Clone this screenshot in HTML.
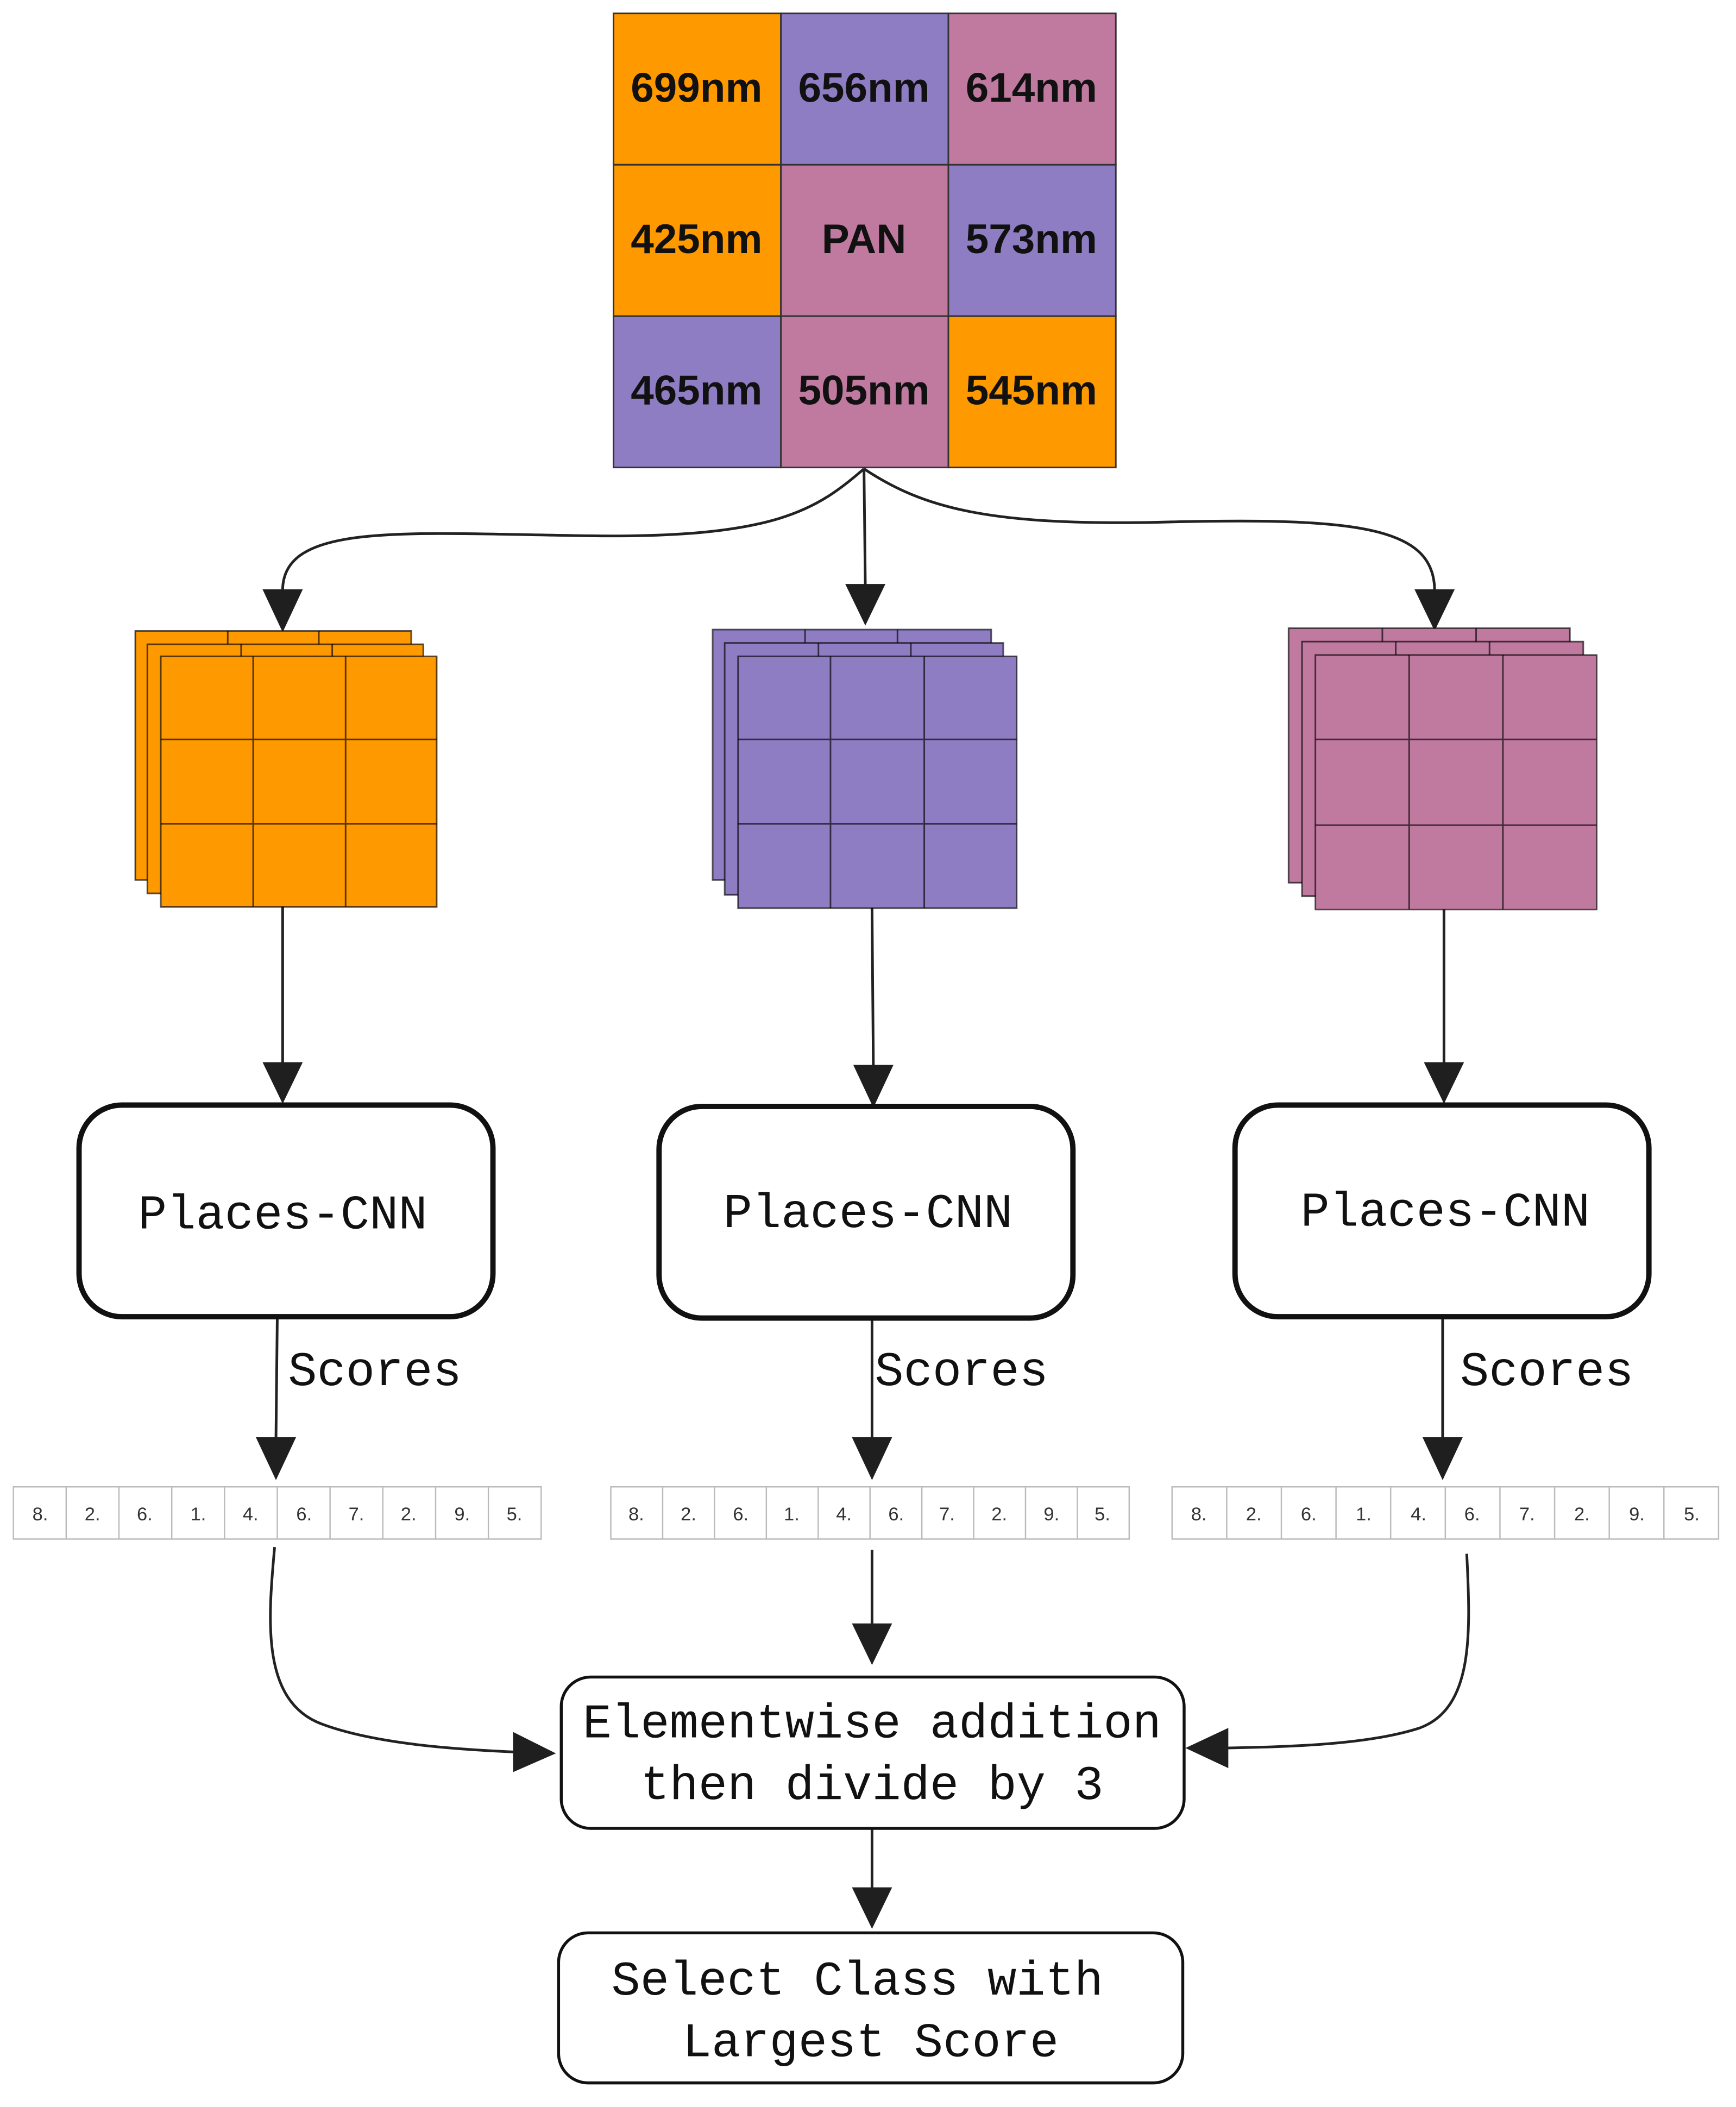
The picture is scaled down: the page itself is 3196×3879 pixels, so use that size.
<!DOCTYPE html>
<html><head><meta charset="utf-8"><style>html,body{margin:0;padding:0;background:#fff}svg{display:block}</style></head>
<body>
<svg width="3196" height="3879" viewBox="0 0 1296 1573" xmlns="http://www.w3.org/2000/svg">
<defs>
<g id="stk">
<rect x="0" y="0" width="206" height="186" fill="#FF9900" stroke="#000" stroke-opacity=".6" stroke-width="1.2"/>
</g>
</defs>
<!-- top grid -->
<g stroke="#333" stroke-width="1.2">
<rect x="458" y="10" width="125" height="113" fill="#FF9900"/>
<rect x="583" y="10" width="125" height="113" fill="#8F7DC4"/>
<rect x="708" y="10" width="125" height="113" fill="#C07AA0"/>
<rect x="458" y="123" width="125" height="113" fill="#FF9900"/>
<rect x="583" y="123" width="125" height="113" fill="#C07AA0"/>
<rect x="708" y="123" width="125" height="113" fill="#8F7DC4"/>
<rect x="458" y="236" width="125" height="113" fill="#8F7DC4"/>
<rect x="583" y="236" width="125" height="113" fill="#C07AA0"/>
<rect x="708" y="236" width="125" height="113" fill="#FF9900"/>
</g>
<g font-family="Liberation Sans, sans-serif" font-weight="bold" font-size="31" text-anchor="middle" fill="#111">
<text x="520" y="76">699nm</text><text x="645" y="76">656nm</text><text x="770" y="76">614nm</text>
<text x="520" y="189">425nm</text><text x="645" y="189">PAN</text><text x="770" y="189">573nm</text>
<text x="520" y="302">465nm</text><text x="645" y="302">505nm</text><text x="770" y="302">545nm</text>
</g>
<!-- connectors -->
<g fill="none" stroke="#222" stroke-width="2">
<path d="M645,350 C610,380 580,402 440,400 C300,398 212,390 211,440"/>
<path d="M645,350 L646,438"/>
<path d="M645,350 C690,380 740,392 860,390 C1010,386 1070,392 1071,440"/>
<path d="M211,677 L211,795"/><path d="M651,678 L652,797"/><path d="M1078,679 L1078,795"/>
<path d="M207,983 L206,1075"/><path d="M651,984 L651,1075"/><path d="M1077,983 L1077,1075"/>
<path d="M205,1155 C200,1210 195,1270 240,1287 C280,1302 340,1306 385,1308"/>
<path d="M651,1157 L651,1213"/>
<path d="M1095,1160 C1098,1220 1100,1275 1060,1290 C1020,1303 960,1304 915,1305"/>
<path d="M651,1365 L651,1410"/>
</g>
<g fill="#1f1f1f">
<polygon points="196,440 226,440 211,472"/>
<polygon points="631,436 661,436 646,467"/>
<polygon points="1056,440 1086,440 1071,471"/>
<polygon points="196,793 226,793 211,824"/>
<polygon points="637,795 667,795 652,827"/>
<polygon points="1063,793 1093,793 1078,824"/>
<polygon points="191,1073 221,1073 206,1105"/>
<polygon points="636,1073 666,1073 651,1105"/>
<polygon points="1062,1073 1092,1073 1077,1105"/>
<polygon points="636,1212 666,1212 651,1243"/>
<polygon points="383,1293 383,1323 415,1309"/>
<polygon points="917,1290 917,1320 885,1305"/>
<polygon points="636,1409 666,1409 651,1440"/>
</g>
<!-- stacks -->
<g stroke="#000" stroke-opacity=".65" stroke-width="1.2">
<g fill="#FF9900">
<rect x="101" y="471" width="206" height="186"/>
<rect x="110" y="481" width="206" height="186"/>
<rect x="120" y="490" width="206" height="187"/>
<path d="M189,490V677M258,490V677M120,552H326M120,615H326" fill="none"/>
<path d="M170,471V481M238,471V481M180,481V490M248,481V490" fill="none"/>
</g>
<g fill="#8F7DC4">
<rect x="532" y="470" width="208" height="187"/>
<rect x="541" y="480" width="208" height="188"/>
<rect x="551" y="490" width="208" height="188"/>
<path d="M620,490V678M690,490V678M551,552H759M551,615H759" fill="none"/>
<path d="M601,470V480M670,470V480M611,480V490M680,480V490" fill="none"/>
</g>
<g fill="#C07AA0">
<rect x="962" y="469" width="210" height="190"/>
<rect x="972" y="479" width="210" height="190"/>
<rect x="982" y="489" width="210" height="190"/>
<path d="M1052,489V679M1122,489V679M982,552H1192M982,616H1192" fill="none"/>
<path d="M1032,469V479M1102,469V479M1042,479V489M1112,479V489" fill="none"/>
</g>
</g>
<!-- CNN boxes -->
<g fill="#fff" stroke="#111" stroke-width="4">
<rect x="59" y="825" width="309" height="158" rx="32"/>
<rect x="492" y="826" width="309" height="158" rx="32"/>
<rect x="922" y="825" width="309" height="158" rx="32"/>
</g>
<g font-family="Liberation Mono, monospace" font-size="36" fill="#111">
<text x="211" y="917" text-anchor="middle">Places-CNN</text>
<text x="648" y="916" text-anchor="middle">Places-CNN</text>
<text x="1079" y="915" text-anchor="middle">Places-CNN</text>
<text x="215" y="1034">Scores</text>
<text x="653" y="1034">Scores</text>
<text x="1090" y="1034">Scores</text>
</g>
<!-- score arrays -->
<g stroke="#bbb" stroke-width="1" fill="#fff">
<rect x="10" y="1110" width="394" height="39"/>
<path d="M49.4,1110V1149M88.8,1110V1149M128.2,1110V1149M167.6,1110V1149M207,1110V1149M246.4,1110V1149M285.8,1110V1149M325.2,1110V1149M364.6,1110V1149"/>
<rect x="456" y="1110" width="387" height="39"/>
<path d="M494.7,1110V1149M533.4,1110V1149M572.1,1110V1149M610.8,1110V1149M649.5,1110V1149M688.2,1110V1149M726.9,1110V1149M765.6,1110V1149M804.3,1110V1149"/>
<rect x="875" y="1110" width="408" height="39"/>
<path d="M915.8,1110V1149M956.6,1110V1149M997.4,1110V1149M1038.2,1110V1149M1079,1110V1149M1119.8,1110V1149M1160.6,1110V1149M1201.4,1110V1149M1242.2,1110V1149"/>
</g>
<g font-family="Liberation Sans, sans-serif" font-size="14" fill="#333" text-anchor="middle">
<text x="30" y="1135">8.</text><text x="69" y="1135">2.</text><text x="108" y="1135">6.</text><text x="148" y="1135">1.</text><text x="187" y="1135">4.</text><text x="227" y="1135">6.</text><text x="266" y="1135">7.</text><text x="305" y="1135">2.</text><text x="345" y="1135">9.</text><text x="384" y="1135">5.</text>
<text x="475" y="1135">8.</text><text x="514" y="1135">2.</text><text x="553" y="1135">6.</text><text x="591" y="1135">1.</text><text x="630" y="1135">4.</text><text x="669" y="1135">6.</text><text x="707" y="1135">7.</text><text x="746" y="1135">2.</text><text x="785" y="1135">9.</text><text x="823" y="1135">5.</text>
<text x="895" y="1135">8.</text><text x="936" y="1135">2.</text><text x="977" y="1135">6.</text><text x="1018" y="1135">1.</text><text x="1059" y="1135">4.</text><text x="1099" y="1135">6.</text><text x="1140" y="1135">7.</text><text x="1181" y="1135">2.</text><text x="1222" y="1135">9.</text><text x="1263" y="1135">5.</text>
</g>
<!-- bottom boxes -->
<g fill="#fff" stroke="#111" stroke-width="2.2">
<rect x="419" y="1252" width="465" height="113" rx="22"/>
<rect x="417" y="1443" width="466" height="112" rx="22"/>
</g>
<g font-family="Liberation Mono, monospace" font-size="36" fill="#111" text-anchor="middle">
<text x="651" y="1297">Elementwise addition</text>
<text x="651" y="1343">then divide by 3</text>
<text x="640" y="1489">Select Class with</text>
<text x="650" y="1535">Largest Score</text>
</g>
</svg>
</body></html>
